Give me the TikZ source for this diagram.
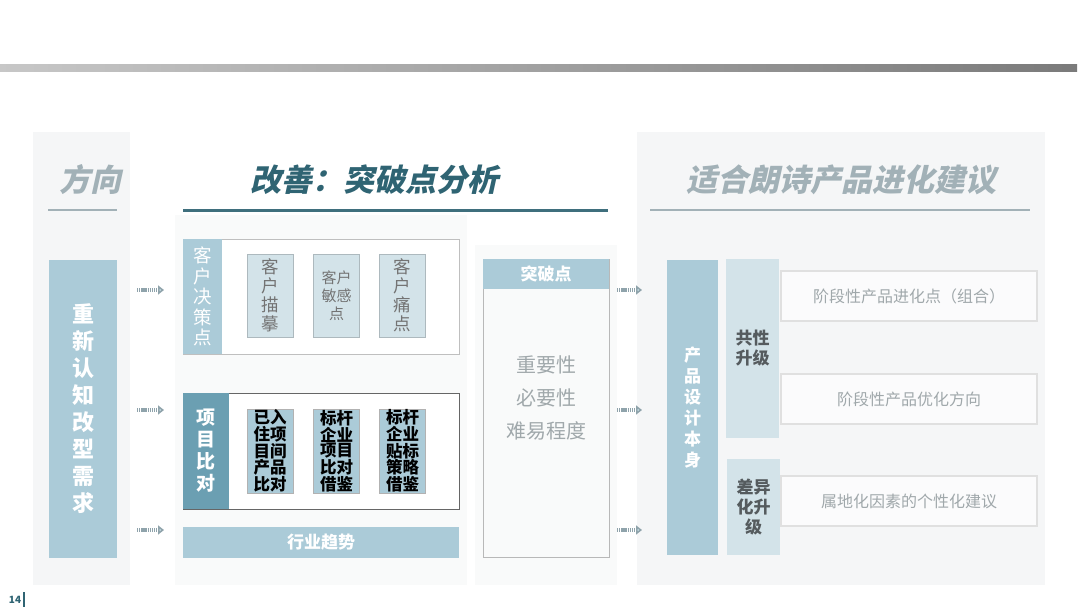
\documentclass[tikz,border=0pt]{standalone}
\usepackage{fontspec}
\setmainfont{Noto Sans CJK SC}
\newfontfamily\ttlfont[FakeSlant=0.22]{Noto Sans CJK SC}
\usetikzlibrary{arrows.meta}
\definecolor{lblue}{HTML}{ABCBD8}
\definecolor{pblue}{HTML}{D3E3E9}
\definecolor{dblue}{HTML}{6B9FB2}
\definecolor{teal}{HTML}{2F6473}
\definecolor{tline}{HTML}{3F6F7D}
\definecolor{tgray}{HTML}{A2B1B7}
\definecolor{bggray}{HTML}{F5F6F7}
\definecolor{txtgray}{HTML}{A0A8AB}
\definecolor{dgray}{HTML}{555B5E}
\definecolor{arrgray}{HTML}{8FA3AB}
\tikzset{
  bx/.style={inner sep=0pt, outer sep=0pt, line width=0.8pt, align=center},
  ttl/.style={font=\ttlfont\bfseries\fontsize{31}{31}\selectfont, inner sep=0pt},
  arr/.style={line width=4.5pt, color=arrgray, dash pattern=on 1.3pt off 0.8pt,
    -{Triangle[length=6pt,width=9pt,fill=lblue!70]}},
}
\begin{document}
\begin{tikzpicture}[x=1pt,y=-1pt]
\useasboundingbox (0,0) rectangle (1080,608);
\fill[white] (0,0) rectangle (1080,608);
% top bar
\shade[left color=black!22, right color=black!52] (0,64) rectangle (1077,71);
% panel backgrounds
\fill[bggray] (33,132) rectangle (130,585);
\fill[bggray!60] (175,215) rectangle (467,585);
\fill[bggray!60] (475,245) rectangle (617,585);
\fill[bggray] (637,132) rectangle (1045,585);
% titles
\node[ttl, text=tgray] (t1) at (90,180) {方向};
\node[ttl, text=teal] (t2) at (374,180) {改善：突破点分析};
\node[ttl, text=tgray] (t3) at (841,180) {适合朗诗产品进化建议};
\draw[tgray, line width=2.5pt] (48,210) -- (117,210);
\draw[tline, line width=3pt] (183,210) -- (608,210);
\draw[tgray, line width=2.5pt] (650,210) -- (1030,210);
% left box
\node[bx, fill=lblue, minimum width=68pt, minimum height=298pt, text=white,
  font=\bfseries\fontsize{22}{27}\selectfont] (L) at (83,409) {重\\新\\认\\知\\改\\型\\需\\求};
% box 1
\node[bx, fill=white, draw=black!25, minimum width=276pt, minimum height=115pt] (B1) at (321,296.5) {};
\node[bx, fill=lblue, minimum width=39pt, minimum height=115pt, text=white,
  font=\fontsize{18.5}{20.5}\selectfont] (S1) at (202.5,296.5) {客\\户\\决\\策\\点};
\node[bx, fill=pblue, draw=pblue!80!black!95, line width=0.4pt, minimum width=46pt, minimum height=83pt, text=black!55,
  font=\fontsize{17.5}{19}\selectfont] (I1) at (270,295.5) {客\\户\\描\\摹};
\node[bx, fill=pblue, draw=pblue!80!black!95, line width=0.4pt, minimum width=46pt, minimum height=83pt, text=black!55,
  font=\fontsize{15}{18}\selectfont] (I2) at (336.5,295.5) {客户\\敏感\\点};
\node[bx, fill=pblue, draw=pblue!80!black!95, line width=0.4pt, minimum width=46pt, minimum height=83pt, text=black!55,
  font=\fontsize{17.5}{19}\selectfont] (I3) at (402.5,295.5) {客\\户\\痛\\点};
% box 2
\node[bx, fill=white, draw=black!60, minimum width=276pt, minimum height=116pt] (B2) at (321,451) {};
\node[bx, fill=dblue, minimum width=46pt, minimum height=116pt, text=white,
  font=\bfseries\fontsize{19}{22}\selectfont] (S2) at (206,451) {项\\目\\比\\对};
\node[bx, fill=lblue, draw=black!30, line width=0.4pt, minimum width=46pt, minimum height=84pt, text=black,
  font=\bfseries\fontsize{16.5}{14.5}\selectfont] (J1) at (270,451) {已入\\住项\\目间\\产品\\比对};
\node[bx, fill=lblue, draw=black!30, line width=0.4pt, minimum width=46pt, minimum height=84pt, text=black,
  font=\bfseries\fontsize{16.5}{14.5}\selectfont] (J2) at (336.5,451) {标杆\\企业\\项目\\比对\\借鉴};
\node[bx, fill=lblue, draw=black!30, line width=0.4pt, minimum width=46pt, minimum height=84pt, text=black,
  font=\bfseries\fontsize{16.5}{14.5}\selectfont] (J3) at (402.5,451) {标杆\\企业\\贴标\\策略\\借鉴};
% trend bar
\node[bx, fill=lblue, minimum width=276pt, minimum height=31pt, text=white,
  font=\bfseries\fontsize{17}{17}\selectfont] (T) at (321,542.5) {行业趋势};
% breakthrough box
\node[bx, fill=bggray!60, draw=black!28, minimum width=126pt, minimum height=298pt] (M) at (546,408) {};
\node[bx, fill=lblue, minimum width=126pt, minimum height=30pt, text=white,
  font=\bfseries\fontsize{17}{17}\selectfont] (MH) at (546,274) {突破点};
\node[align=center, text=txtgray, font=\fontsize{20}{33}\selectfont] (MB) at (546,398) {重要性\\必要性\\难易程度};
% right side
\node[bx, fill=lblue, minimum width=51pt, minimum height=295pt, text=white,
  font=\bfseries\fontsize{17}{21}\selectfont] (R) at (692.5,407.5) {产\\品\\设\\计\\本\\身};
\node[bx, fill=pblue, minimum width=53pt, minimum height=179pt, text=dgray,
  font=\bfseries\fontsize{17}{20}\selectfont] (G1) at (752.5,348.5) {共性\\升级};
\node[bx, fill=pblue, minimum width=53pt, minimum height=96pt, text=dgray,
  font=\bfseries\fontsize{17}{20}\selectfont] (G2) at (753.5,507) {差异\\化升\\级};
\node[bx, fill=bggray!40, draw=black!12, line width=1.5pt, minimum width=256pt, minimum height=50pt, text=txtgray,
  font=\fontsize{16}{16}\selectfont] (R1) at (909,296) {阶段性产品进化点（组合）};
\node[bx, fill=bggray!40, draw=black!12, line width=1.5pt, minimum width=256pt, minimum height=50pt, text=txtgray,
  font=\fontsize{16}{16}\selectfont] (R2) at (909,399) {阶段性产品优化方向};
\node[bx, fill=bggray!40, draw=black!12, line width=1.5pt, minimum width=256pt, minimum height=50pt, text=txtgray,
  font=\fontsize{16}{16}\selectfont] (R3) at (909,501) {属地化因素的个性化建议};
% arrows
\coordinate (a1s) at (137,290); \coordinate (a1e) at (164,290);
\coordinate (a2s) at (137,410); \coordinate (a2e) at (164,410);
\coordinate (a3s) at (137,530); \coordinate (a3e) at (164,530);
\coordinate (b1s) at (617,290); \coordinate (b1e) at (642,290);
\coordinate (b2s) at (617,410); \coordinate (b2e) at (642,410);
\coordinate (b3s) at (617,530); \coordinate (b3e) at (642,530);
\draw[arr] (a1s) -- (a1e);
\draw[arr] (a2s) -- (a2e);
\draw[arr] (a3s) -- (a3e);
\draw[arr] (b1s) -- (b1e);
\draw[arr] (b2s) -- (b2e);
\draw[arr] (b3s) -- (b3e);
% page number
\node[text=teal, font=\bfseries\fontsize{10}{10}\selectfont, inner sep=0pt] (pn) at (15,600) {14};
\draw[teal, line width=2pt] (24,592) -- (24,607);
\end{tikzpicture}
\end{document}
